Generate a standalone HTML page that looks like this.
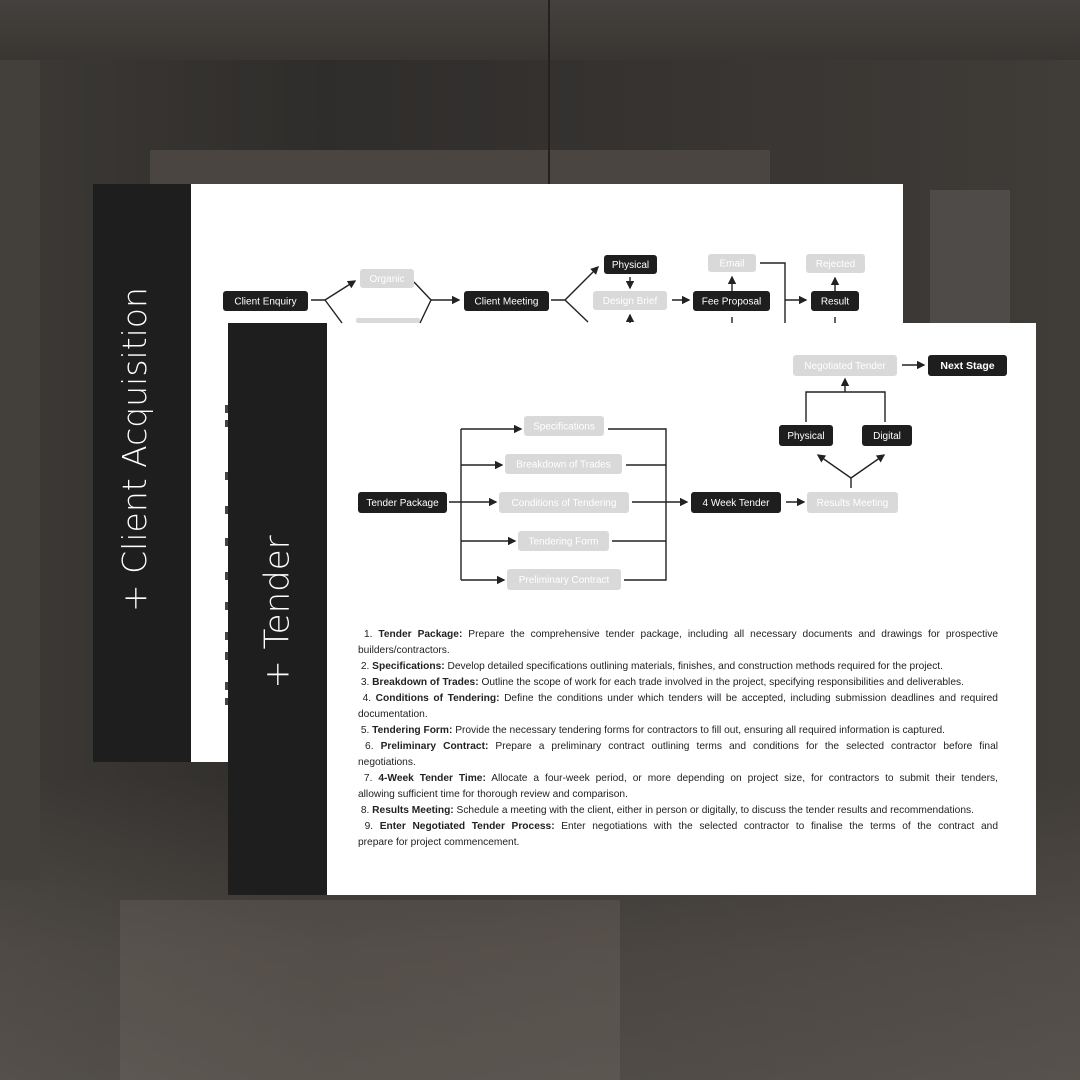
<!DOCTYPE html>
<html><head><meta charset="utf-8"><style>
html,body{margin:0;padding:0;width:1080px;height:1080px;overflow:hidden;background:#333}
.bg{position:absolute;left:0;top:0;width:1080px;height:1080px;
background:
linear-gradient(180deg,rgba(0,0,0,0) 0%,rgba(0,0,0,0) 72%,rgba(120,112,104,0.3) 88%,rgba(130,122,114,0.35) 100%),
linear-gradient(90deg,#3c3936 0%,#2f2d2b 30%,#363331 60%,#403c38 100%);}
.ceil{position:absolute;left:0;top:0;width:1080px;height:60px;background:linear-gradient(180deg,#45413e,#383532)}
.wall{position:absolute;left:0;top:60px;width:40px;height:820px;background:#433f3b}
.win{position:absolute;left:930px;top:190px;width:80px;height:340px;background:#4e4b48}
.beam{position:absolute;left:150px;top:150px;width:620px;height:40px;background:#4a4540}
.card{position:absolute;background:#fff}
.band{position:absolute;background:#1e1e1e}
.title{position:absolute;color:#fff;font-family:"DejaVu Sans","Liberation Sans",sans-serif;font-weight:200;white-space:nowrap;transform-origin:center center;transform:rotate(-90deg)}
.txt{position:absolute;left:358px;top:627px;width:640px;font-family:"Liberation Sans",sans-serif;font-size:10.2px;line-height:16px;color:#222}
.txt div{white-space:nowrap;height:16px}
.txt .j{text-align:justify;text-align-last:justify;white-space:normal;overflow:hidden}
</style></head><body>
<div class="bg"></div>
<div class="ceil"></div>
<div class="wall"></div>
<div class="win"></div>
<div class="beam"></div>
<div style="position:absolute;left:548px;top:0;width:2px;height:190px;background:#222"></div>
<div style="position:absolute;left:120px;top:900px;width:500px;height:180px;background:rgba(150,140,130,0.18)"></div>

<!-- back card -->
<div class="band" style="left:93px;top:184px;width:98px;height:578px"></div>
<div class="card" style="left:191px;top:184px;width:712px;height:578px"></div>
<div class="title" style="left:-25px;top:430px;width:320px;height:44px;font-size:33px;line-height:44px;text-align:center">+ Client Acquisition</div>

<!-- front card -->
<div class="band" style="left:228px;top:323px;width:99px;height:572px"></div>
<div class="card" style="left:327px;top:323px;width:709px;height:572px"></div>
<div class="title" style="left:190px;top:590px;width:175px;height:44px;font-size:34px;line-height:44px;text-align:center">+ Tender</div>

<svg width="1080" height="1080" style="position:absolute;left:0;top:0" font-family="Liberation Sans, sans-serif" font-size="10">
<defs><marker id="a" markerWidth="6" markerHeight="6" refX="5" refY="3" orient="auto"><path d="M0,0 L6,3 L0,6z" fill="#222"/></marker></defs>
<g stroke="#222" stroke-width="1.4" fill="none">
<path d="M311,300 H325 L355,281" marker-end="url(#a)"/>
<path d="M325,300 L342,323"/>
<path d="M414,282 L431,300 L420,323"/>
<path d="M431,300 H459" marker-end="url(#a)"/>
<path d="M551,300 H565 L598,267" marker-end="url(#a)"/>
<path d="M565,300 L588,322"/>
<path d="M630,277 V288" marker-end="url(#a)"/>
<path d="M630,323 V315" marker-end="url(#a)"/>
<path d="M672,300 H689" marker-end="url(#a)"/>
<path d="M732,291 V277" marker-end="url(#a)"/>
<path d="M732,317 V323"/>
<path d="M760,263 H785 V323"/>
<path d="M785,300 H806" marker-end="url(#a)"/>
<path d="M835,291 V278" marker-end="url(#a)"/>
<path d="M835,317 V323"/>
</g>
<g>
<rect x="223" y="291" width="85" height="20" rx="3" fill="#1e1e1e"/><text x="265.5" y="304.5" fill="#fff" text-anchor="middle">Client Enquiry</text>
<rect x="360" y="269" width="54" height="19" rx="3" fill="#d9d9d9"/><text x="387" y="282" fill="#fff" text-anchor="middle">Organic</text>
<rect x="356" y="318" width="64" height="5" rx="2" fill="#d9d9d9"/>
<rect x="464" y="291" width="85" height="20" rx="3" fill="#1e1e1e"/><text x="506.5" y="304.5" fill="#fff" text-anchor="middle">Client Meeting</text>
<rect x="604" y="255" width="53" height="19" rx="3" fill="#1e1e1e"/><text x="630.5" y="268" fill="#fff" text-anchor="middle">Physical</text>
<rect x="593" y="291" width="74" height="19" rx="3" fill="#d9d9d9"/><text x="630" y="304" fill="#fff" text-anchor="middle">Design Brief</text>
<rect x="693" y="291" width="77" height="20" rx="3" fill="#1e1e1e"/><text x="731.5" y="304.5" fill="#fff" text-anchor="middle">Fee Proposal</text>
<rect x="708" y="254" width="48" height="18" rx="3" fill="#d9d9d9"/><text x="732" y="266.5" fill="#fff" text-anchor="middle">Email</text>
<rect x="806" y="254" width="59" height="19" rx="3" fill="#d9d9d9"/><text x="835.5" y="267" fill="#fff" text-anchor="middle">Rejected</text>
<rect x="811" y="291" width="48" height="20" rx="3" fill="#1e1e1e"/><text x="835" y="304.5" fill="#fff" text-anchor="middle">Result</text>
</g>
<g fill="#444">
<rect x="225" y="405" width="3" height="8"/><rect x="225" y="420" width="3" height="7"/><rect x="225" y="472" width="3" height="8"/>
<rect x="225" y="506" width="3" height="8"/><rect x="225" y="538" width="3" height="8"/><rect x="225" y="572" width="3" height="8"/>
<rect x="225" y="602" width="3" height="8"/><rect x="225" y="632" width="3" height="8"/><rect x="225" y="652" width="3" height="8"/>
<rect x="225" y="682" width="3" height="8"/><rect x="225" y="698" width="3" height="7"/>
</g>

<g stroke="#222" stroke-width="1.4" fill="none">
<path d="M449,502 H496" marker-end="url(#a)"/>
<path d="M461,429 V580"/>
<path d="M461,429 H521" marker-end="url(#a)"/>
<path d="M461,465 H502" marker-end="url(#a)"/>
<path d="M461,541 H515" marker-end="url(#a)"/>
<path d="M461,580 H504" marker-end="url(#a)"/>
<path d="M608,429 H666 V580 H624"/>
<path d="M626,465 H666"/>
<path d="M612,541 H666"/>
<path d="M632,502 H687" marker-end="url(#a)"/>
<path d="M786,502 H804" marker-end="url(#a)"/>
<path d="M851,488 V478 L818,455" marker-end="url(#a)"/>
<path d="M851,478 L884,455" marker-end="url(#a)"/>
<path d="M806,422 V392 H885 V422"/>
<path d="M845,392 V379" marker-end="url(#a)"/>
<path d="M902,365 H924" marker-end="url(#a)"/>
</g>
<g>
<rect x="358" y="492" width="89" height="21" rx="3" fill="#1e1e1e"/><text x="402.5" y="506" fill="#fff" text-anchor="middle">Tender Package</text>
<rect x="524" y="416" width="80" height="20" rx="3" fill="#d9d9d9"/><text x="564" y="429.5" fill="#fff" text-anchor="middle">Specifications</text>
<rect x="505" y="454" width="117" height="20" rx="3" fill="#d9d9d9"/><text x="563.5" y="467.5" fill="#fff" text-anchor="middle">Breakdown of Trades</text>
<rect x="499" y="492" width="130" height="21" rx="3" fill="#d9d9d9"/><text x="564" y="506" fill="#fff" text-anchor="middle">Conditions of Tendering</text>
<rect x="518" y="531" width="91" height="20" rx="3" fill="#d9d9d9"/><text x="563.5" y="544.5" fill="#fff" text-anchor="middle">Tendering Form</text>
<rect x="507" y="569" width="114" height="21" rx="3" fill="#d9d9d9"/><text x="564" y="583" fill="#fff" text-anchor="middle">Preliminary Contract</text>
<rect x="691" y="492" width="90" height="21" rx="3" fill="#1e1e1e"/><text x="736" y="506" fill="#fff" text-anchor="middle">4 Week Tender</text>
<rect x="807" y="492" width="91" height="21" rx="3" fill="#d9d9d9"/><text x="852.5" y="506" fill="#fff" text-anchor="middle">Results Meeting</text>
<rect x="779" y="425" width="54" height="21" rx="3" fill="#1e1e1e"/><text x="806" y="439" fill="#fff" text-anchor="middle">Physical</text>
<rect x="862" y="425" width="50" height="21" rx="3" fill="#1e1e1e"/><text x="887" y="439" fill="#fff" text-anchor="middle">Digital</text>
<rect x="793" y="355" width="104" height="21" rx="3" fill="#d9d9d9"/><text x="845" y="369" fill="#fff" text-anchor="middle">Negotiated Tender</text>
<rect x="928" y="355" width="79" height="21" rx="3" fill="#1e1e1e"/><text x="967.5" y="369" fill="#fff" text-anchor="middle" font-weight="bold" font-size="10.5">Next Stage</text>
</g>
</svg>

<div class="txt">
<div class="j">&nbsp;1. <b>Tender Package:</b> Prepare the comprehensive tender package, including all necessary documents and drawings for prospective</div>
<div>builders/contractors.</div>
<div>&nbsp;2. <b>Specifications:</b> Develop detailed specifications outlining materials, finishes, and construction methods required for the project.</div>
<div>&nbsp;3. <b>Breakdown of Trades:</b> Outline the scope of work for each trade involved in the project, specifying responsibilities and deliverables.</div>
<div class="j">&nbsp;4. <b>Conditions of Tendering:</b> Define the conditions under which tenders will be accepted, including submission deadlines and required</div>
<div>documentation.</div>
<div>&nbsp;5. <b>Tendering Form:</b> Provide the necessary tendering forms for contractors to fill out, ensuring all required information is captured.</div>
<div class="j">&nbsp;6. <b>Preliminary Contract:</b> Prepare a preliminary contract outlining terms and conditions for the selected contractor before final</div>
<div>negotiations.</div>
<div class="j">&nbsp;7. <b>4-Week Tender Time:</b> Allocate a four-week period, or more depending on project size, for contractors to submit their tenders,</div>
<div>allowing sufficient time for thorough review and comparison.</div>
<div>&nbsp;8. <b>Results Meeting:</b> Schedule a meeting with the client, either in person or digitally, to discuss the tender results and recommendations.</div>
<div class="j">&nbsp;9. <b>Enter Negotiated Tender Process:</b> Enter negotiations with the selected contractor to finalise the terms of the contract and</div>
<div>prepare for project commencement.</div>
</div>
</body></html>
